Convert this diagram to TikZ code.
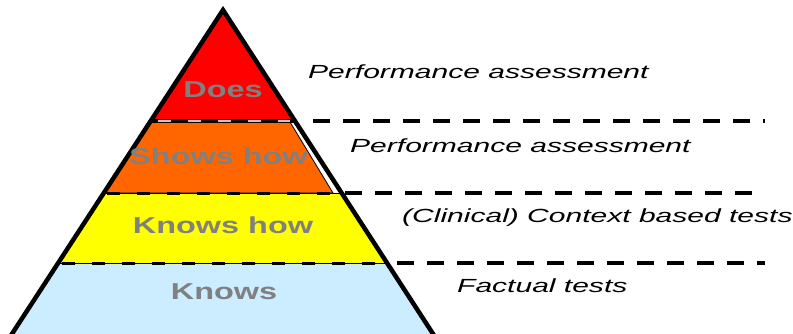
\documentclass[tikz,border=0pt]{standalone}
\usepackage{fontspec}
\setmainfont{Liberation Sans}
\definecolor{doesred}{HTML}{FF0000}
\definecolor{showorange}{HTML}{FF6600}
\definecolor{knowyellow}{HTML}{FFFF00}
\definecolor{knowblue}{HTML}{CCECFF}
\definecolor{labelgray}{HTML}{808080}
\newcommand{\levellabel}[1]{\fontsize{23}{27}\selectfont\bfseries\scalebox{1.41}[1]{#1}}
\newcommand{\assesslabel}[1]{\fontsize{19}{23}\selectfont\itshape\scalebox{1.58}[1]{#1}}
\begin{document}
\begin{tikzpicture}[x=1pt,y=-1pt,
  level/.style={text=labelgray, inner sep=0pt, anchor=base},
  assess/.style={text=black, inner sep=0pt, anchor=base west},
  divider/.style={draw=black, line width=3.3pt, dash pattern=on 17pt off 13pt},
  innerdash/.style={draw=black, line width=3pt, dash pattern=on 13pt off 17pt},
  outline/.style={draw=black, line width=4.5pt, line join=miter}]
\useasboundingbox (0,0) rectangle (793,333);
% bands
\fill[knowblue] (58,263) -- (387,263) -- (435,340) -- (8,340) -- cycle;
\fill[knowyellow] (103.5,193) -- (342,193) -- (387,263) -- (58,263) -- cycle;
\draw[fill=showorange, line width=0.8pt] (148,122) -- (290,122) -- (333,193) -- (104,193) -- cycle;
\fill[doesred] (223,10) -- (151,120.5) -- (294,120.5) -- cycle;
% inner boundaries
\draw[line width=3.5pt] (151,121) -- (294,121);
\draw[gray!45, line width=1.4pt, dash pattern=on 13pt off 17pt] (158,121) -- (290,121);
\draw[line width=0.8pt] (104,193) -- (342,193);
\draw[innerdash] (107,193) -- (340,193);
\draw[line width=0.8pt] (58,263) -- (387,263);
\draw[innerdash] (62,263) -- (385,263);
% outer dividers
\draw[divider] (313,121) -- (765,121);
\draw[divider] (345,193) -- (752,193);
\draw[divider] (397,263) -- (765,263);
% pyramid outline
\draw[outline] (8,340) -- (223,10) -- (437,340);
% level labels
\node[level] (does) at (223,97) {\levellabel{Does}};
\node[level] (shows) at (218.5,164) {\levellabel{Shows how}};
\node[level] (knowshow) at (223,233) {\levellabel{Knows how}};
\node[level] (knows) at (224,299) {\levellabel{Knows}};
% assessment labels
\node[assess] (perf1) at (308,78) {\assesslabel{Performance assessment}};
\node[assess] (perf2) at (350,152) {\assesslabel{Performance assessment}};
\node[assess] (context) at (402,222) {\assesslabel{(Clinical) Context based tests}};
\node[assess] (factual) at (457,292) {\assesslabel{Factual tests}};
\end{tikzpicture}
\end{document}
